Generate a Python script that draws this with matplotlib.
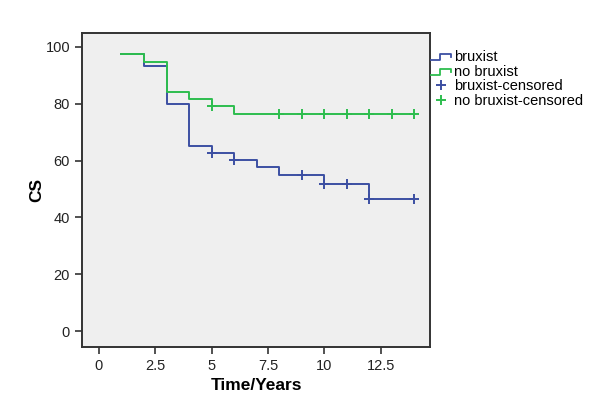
import numpy as np
import matplotlib.pyplot as plt
from matplotlib.legend_handler import HandlerBase
from matplotlib.lines import Line2D

plt.rcParams['font.family'] = ['Liberation Sans', 'DejaVu Sans']

# step curves (time where the level starts, survival level)
brux_t = [1, 2, 3, 4, 5, 6, 7, 8, 10, 12, 14]
brux_s = [97.5, 93.3, 80.0, 65.0, 62.7, 60.3, 57.6, 54.8, 51.7, 46.5, 46.5]
nobrux_t = [1, 2, 3, 4, 5, 6, 14]
nobrux_s = [97.5, 94.5, 84.2, 81.8, 79.1, 76.4, 76.4]

# censored points
brux_ct = [5, 6, 9, 10, 11, 12, 14]
brux_cs = [62.7, 60.3, 54.8, 51.7, 51.7, 46.5, 46.5]
nobrux_ct = [5, 8, 9, 10, 11, 12, 13, 14]
nobrux_cs = [79.1, 76.4, 76.4, 76.4, 76.4, 76.4, 76.4, 76.4]

blue = '#3c4fa2'
green = '#2dbd4e'


class StepHandler(HandlerBase):
    def create_artists(self, legend, orig, xd, yd, w, h, fontsize, trans):
        xs = [0, 0.45 * w, 0.45 * w, w, w]
        ys = [0.1 * h, 0.1 * h, 0.65 * h, 0.65 * h, 0.35 * h]
        ln = Line2D(xs, ys, color=orig.get_color(), lw=1.3)
        ln.set_transform(trans)
        return [ln]


fig = plt.figure(figsize=(6.06, 4.05), dpi=100)
ax = fig.add_axes([0.135, 0.143, 0.575, 0.776])
ax.set_facecolor('#efefef')

l1, = ax.step(brux_t, brux_s, where='post', color=blue, lw=1.4)
l2, = ax.step(nobrux_t, nobrux_s, where='post', color=green, lw=1.4)
c1, = ax.plot(brux_ct, brux_cs, ls='none', marker='+', ms=7, mew=1.4, color=blue)
c2, = ax.plot(nobrux_ct, nobrux_cs, ls='none', marker='+', ms=7, mew=1.4, color=green)

ax.set_xlim(-0.76, 14.7)
ax.set_ylim(-5.6, 104.9)
ax.set_xticks([0, 2.5, 5, 7.5, 10, 12.5])
ax.set_xticklabels(['0', '2.5', '5', '7.5', '10', '12.5'])
ax.set_yticks([0, 20, 40, 60, 80, 100])
ax.tick_params(direction='out', length=5, width=1.2, color='#333333',
               labelsize=10.5, labelcolor='#222222')
for sp in ax.spines.values():
    sp.set_color('#333333')
    sp.set_linewidth(1.4)

ax.set_xlabel('Time/Years', fontsize=12.5, fontweight='bold', labelpad=4)
ax.set_ylabel('CS', fontsize=12.5, fontweight='bold', labelpad=1)

fig.legend([l1, l2, c1, c2],
           ['bruxist', 'no bruxist', 'bruxist-censored', 'no bruxist-censored'],
           handler_map={l1: StepHandler(), l2: StepHandler()},
           loc='upper left', bbox_to_anchor=(0.711, 0.877),
           frameon=False, fontsize=10.5, handlelength=1.35, handletextpad=0.25,
           labelspacing=0.05, borderpad=0, borderaxespad=0)

fig.savefig('out.png', dpi=100, facecolor='white')
